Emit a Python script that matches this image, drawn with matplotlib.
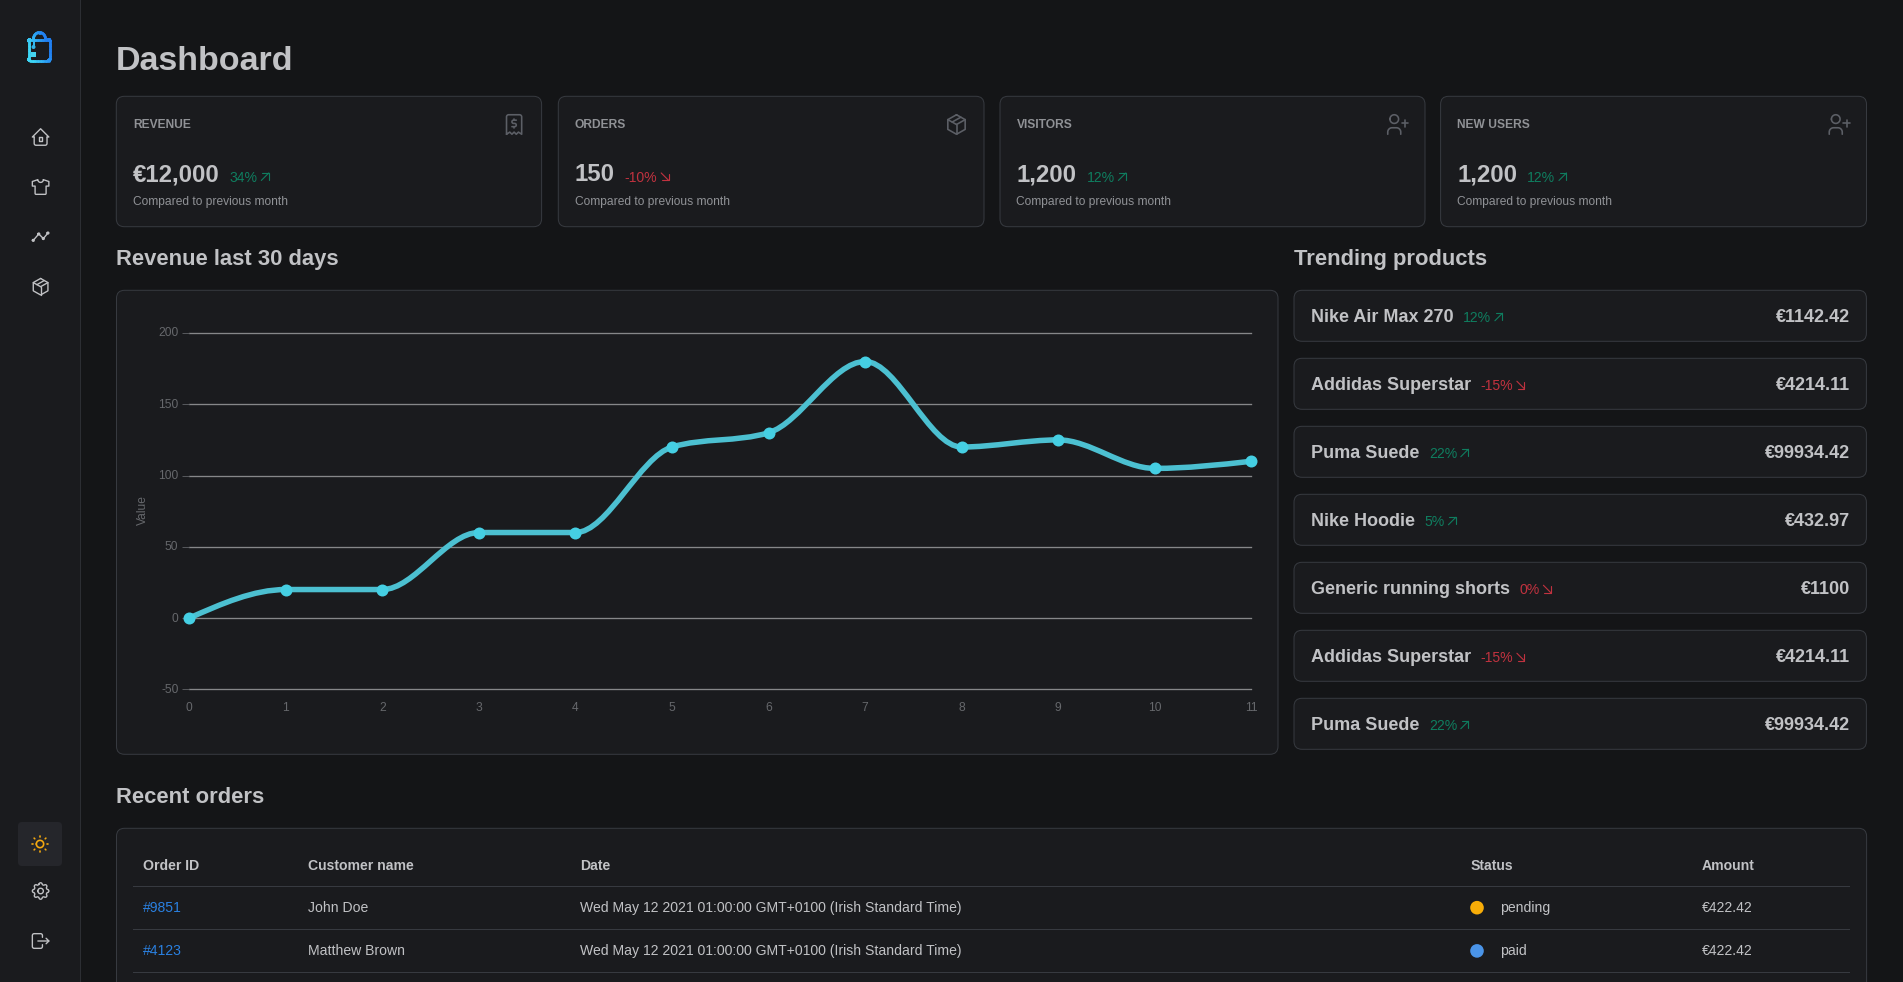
# Dashboard screenshot rebuilt with matplotlib
import re
import numpy as np
import matplotlib
matplotlib.use('Agg')
import matplotlib.pyplot as plt
from matplotlib.path import Path
from matplotlib.patches import FancyBboxPatch, PathPatch, Circle, Rectangle
from matplotlib.collections import LineCollection
from matplotlib.transforms import ScaledTranslation

plt.rcParams['font.family'] = ['Liberation Sans', 'DejaVu Sans']
plt.rcParams['axes.unicode_minus'] = False

W, H = 1903, 982

# chart data
days = [0, 1, 2, 3, 4, 5, 6, 7, 8, 9, 10, 11]
revenue = [0, 20, 20, 60, 60, 120, 130, 180, 120, 125, 105, 110]
value_ticks = [-50, 0, 50, 100, 150, 200]

# stat cards
stat_titles = ['REVENUE', 'ORDERS', 'VISITORS', 'NEW USERS']
stat_values = ['€12,000', '150', '1,200', '1,200']
stat_diffs = [34, -10, 12, 12]
stat_icons = ['receipt', 'package', 'user', 'user']

# trending products
product_names = ['Nike Air Max 270', 'Addidas Superstar', 'Puma Suede', 'Nike Hoodie',
                 'Generic running shorts', 'Addidas Superstar', 'Puma Suede']
product_diffs = [12, -15, 22, 5, 0, -15, 22]
product_prices = ['€1142.42', '€4214.11', '€99934.42', '€432.97', '€1100', '€4214.11', '€99934.42']

# orders table
table_headers = ['Order ID', 'Customer name', 'Date', 'Status', 'Amount']
order_ids = ['#9851', '#4123']
order_names = ['John Doe', 'Matthew Brown']
order_dates = ['Wed May 12 2021 01:00:00 GMT+0100 (Irish Standard Time)',
               'Wed May 12 2021 01:00:00 GMT+0100 (Irish Standard Time)']
order_status = ['pending', 'paid']
order_amounts = ['€422.42', '€422.42']

# colours
BG = '#141517'
CARD = '#1a1b1e'
BORDER = '#373a40'
TEXT = '#c1c2c5'
DIM = '#909296'
GREEN = '#0f7d5f'
RED = '#c0323f'
ICON_DIM = '#5c5f66'
status_colors = {'pending': '#f8ad08', 'paid': '#4a94e8'}

# tabler icons, 24 unit viewbox
ICONS = {
    'home': ['M5 12l-2 0l9 -9l9 9l-2 0', 'M5 12v7a2 2 0 0 0 2 2h10a2 2 0 0 0 2 -2v-7', 'M10 12h4v4h-4z'],
    'shirt': ['M15 4l6 2v5h-3v8a1 1 0 0 1 -1 1h-10a1 1 0 0 1 -1 -1v-8h-3v-5l6 -2a3 3 0 0 0 6 0'],
    'timeline': ['M4 16l6 -7l5 5l5 -6', 'M14 14a1 1 0 1 0 2 0a1 1 0 1 0 -2 0', 'M9 9a1 1 0 1 0 2 0a1 1 0 1 0 -2 0',
                 'M3 16a1 1 0 1 0 2 0a1 1 0 1 0 -2 0', 'M19 8a1 1 0 1 0 2 0a1 1 0 1 0 -2 0'],
    'package': ['M12 3l8 4.5l0 9l-8 4.5l-8 -4.5l0 -9l8 -4.5', 'M12 12l8 -4.5', 'M12 12l0 9', 'M12 12l-8 -4.5', 'M16 5.25l-8 4.5'],
    'sun': ['M8 12a4 4 0 1 0 8 0a4 4 0 1 0 -8 0', 'M3 12h1', 'M12 3v1', 'M20 12h1', 'M12 20v1', 'M5.6 5.6l.7 .7',
            'M18.4 5.6l-.7 .7', 'M17.7 17.7l.7 .7', 'M6.3 17.7l-.7 .7'],
    'settings': ['M10.325 4.317c.426 -1.756 2.924 -1.756 3.35 0a1.724 1.724 0 0 0 2.573 1.066c1.543 -.94 3.31 .826 2.37 2.37'
                 'a1.724 1.724 0 0 0 1.065 2.572c1.756 .426 1.756 2.924 0 3.35a1.724 1.724 0 0 0 -1.066 2.573'
                 'c.94 1.543 -.826 3.31 -2.37 2.37a1.724 1.724 0 0 0 -2.572 1.065c-.426 1.756 -2.924 1.756 -3.35 0'
                 'a1.724 1.724 0 0 0 -2.573 -1.066c-1.543 .94 -3.31 -.826 -2.37 -2.37a1.724 1.724 0 0 0 -1.065 -2.572'
                 'c-1.756 -.426 -1.756 -2.924 0 -3.35a1.724 1.724 0 0 0 1.066 -2.573c-.94 -1.543 .826 -3.31 2.37 -2.37'
                 'c1 .608 2.296 .07 2.572 -1.065', 'M9 12a3 3 0 1 0 6 0a3 3 0 0 0 -6 0'],
    'logout': ['M14 8v-2a2 2 0 0 0 -2 -2h-7a2 2 0 0 0 -2 2v12a2 2 0 0 0 2 2h7a2 2 0 0 0 2 -2v-2', 'M9 12h12l-3 -3', 'M18 15l3 -3'],
    'receipt': ['M5 21v-16a2 2 0 0 1 2 -2h10a2 2 0 0 1 2 2v16l-3 -2l-2 2l-2 -2l-2 2l-2 -2l-3 2',
                'M14 8h-2.5a1.5 1.5 0 0 0 0 3h1a1.5 1.5 0 0 1 0 3h-2.5', 'M12 14v1.5', 'M12 6.5v1.5'],
    'user': ['M5 7a4 4 0 1 0 8 0a4 4 0 1 0 -8 0', 'M3 21v-2a4 4 0 0 1 4 -4h4a4 4 0 0 1 4 4v2', 'M16 11h6', 'M19 8v6'],
    'up': ['M17 7l-10 10', 'M8 7l9 0l0 9'],
    'down': ['M7 7l10 10', 'M17 8l0 9l-9 0'],
}


def arc_points(p0, r, large, sweep, p1):
    # svg endpoint arc, circular only
    mid = (p0 + p1) / 2
    d = (p1 - p0) / 2
    dist = np.hypot(*d)
    r = max(r, dist)
    k = np.sqrt(max(r * r - dist * dist, 0)) / dist
    if large == sweep:
        k = -k
    c = mid + k * np.array([-d[1], d[0]])
    a0 = np.arctan2(*(p0 - c)[::-1])
    a1 = np.arctan2(*(p1 - c)[::-1])
    if sweep and a1 < a0:
        a1 += 2 * np.pi
    if not sweep and a1 > a0:
        a1 -= 2 * np.pi
    t = np.linspace(a0, a1, 14)[1:]
    return c + r * np.column_stack([np.cos(t), np.sin(t)])


def svg_path(d):
    tok = re.findall(r'[a-zA-Z]|-?\d*\.?\d+', d)
    verts, codes = [], []
    pos = np.zeros(2)
    start = pos
    i = 0
    cmd = None
    while i < len(tok):
        if tok[i].isalpha():
            cmd = tok[i]
            i += 1
            if cmd in 'zZ':
                verts.append(start)
                codes.append(Path.LINETO)
                pos = start
                continue
        rel = cmd.islower()
        c = cmd.lower()
        if c in 'ml':
            p = np.array([float(tok[i]), float(tok[i + 1])]) + (pos if rel else 0)
            i += 2
            verts.append(p)
            codes.append(Path.MOVETO if c == 'm' else Path.LINETO)
            if c == 'm':
                start = p
            pos = p
        elif c == 'h':
            pos = pos + [float(tok[i]), 0] if rel else np.array([float(tok[i]), pos[1]])
            i += 1
            verts.append(pos)
            codes.append(Path.LINETO)
        elif c == 'v':
            pos = pos + [0, float(tok[i])] if rel else np.array([pos[0], float(tok[i])])
            i += 1
            verts.append(pos)
            codes.append(Path.LINETO)
        elif c == 'c':
            for j in range(3):
                verts.append(pos + [float(tok[i + 2 * j]), float(tok[i + 2 * j + 1])])
                codes.append(Path.CURVE4)
            pos = verts[-1]
            i += 6
        elif c == 'a':
            r = float(tok[i])
            p1 = pos + [float(tok[i + 5]), float(tok[i + 6])]
            for q in arc_points(pos, r, int(tok[i + 3]), int(tok[i + 4]), p1):
                verts.append(q)
                codes.append(Path.LINETO)
            pos = p1
            i += 7
    return np.array(verts), codes


def draw_icon(name, cx, cy, size, color, lw=1.5):
    k = size / 24.0
    for d in ICONS[name]:
        v, codes = svg_path(d)
        v = (v - 12) * k + [cx, cy]
        bg.add_patch(PathPatch(Path(v, codes), fc='none', ec=color, lw=lw * k * 0.72,
                               capstyle='round', joinstyle='round', zorder=5))


def card(x0, y0, x1, y1, fc=CARD, ec=BORDER, rad=8):
    bg.add_patch(FancyBboxPatch((x0, y0), x1 - x0, y1 - y0, boxstyle='round,pad=0,rounding_size=%d' % rad,
                                fc=fc, ec=ec, lw=0.72, zorder=2))


def label(x, y, s, px, color=TEXT, bold=False, ha='left'):
    return bg.text(x, y, s, fontsize=px * 0.72, color=color, ha=ha, va='baseline',
                   fontweight='bold' if bold else 'normal', zorder=6)


def right_edge(t):
    return bg.transData.inverted().transform(t.get_window_extent(rend))[1][0]


def diff_badge(x, baseline, diff):
    color = GREEN if diff > 0 else RED
    t = label(x, baseline, '%d%%' % diff, 14, color)
    draw_icon('up' if diff > 0 else 'down', right_edge(t) + 7.5, baseline - 4.8, 18, color)


fig = plt.figure(figsize=(W / 100, H / 100), dpi=100, facecolor=BG)
bg = fig.add_axes([0, 0, 1, 1])
bg.set_xlim(0, W)
bg.set_ylim(H, 0)
bg.axis('off')
rend = fig.canvas.get_renderer()

# sidebar
bg.add_patch(Rectangle((0, 0), 79.6, H, fc=CARD, ec='none', zorder=1))
bg.plot([79.6, 79.6], [0, H], color='#2c2e33', lw=0.72, zorder=2)


def fade_line(pts, lw):
    # logo stroke fades from cyan to blue
    seg = np.stack([pts[:-1], pts[1:]], axis=1)
    f = np.clip((pts[:-1, 0] - pts[:-1, 1] * 0.35 - 12) / 20, 0, 1)
    cols = (1 - f)[:, None] * np.array([0.24, 0.84, 0.96]) + f[:, None] * np.array([0.13, 0.50, 0.95])
    bg.add_collection(LineCollection(seg, colors=cols, linewidths=lw, capstyle='round', zorder=5))


v, _ = svg_path('M30 39.5h18.5a1.5 1.5 0 0 1 1.5 1.5v18a1.5 1.5 0 0 1 -1.5 1.5h-18.5a1.5 1.5 0 0 1 -1.5 -1.5v-18a1.5 1.5 0 0 1 1.5 -1.5')
body = np.vstack([np.linspace(v[i], v[i + 1], 8) for i in range(len(v) - 1)])
handle_t = np.linspace(0, np.pi, 24)
handle = np.column_stack([39.5 - 6 * np.cos(handle_t), 39 - 6.5 * np.sin(handle_t)])
tag = np.linspace([33.5, 39], [33.5, 46], 8)
fade_line(body, 2.0)
fade_line(handle, 2.0)
fade_line(tag, 1.3)
bg.add_patch(Circle((33.5, 47), 2, fc='#33b5e8', ec='none', zorder=5))
bg.add_patch(Rectangle((31.2, 52.3), 4.6, 4.6, fc='#45d3ee', ec='none', zorder=5))

for name, y in zip(['home', 'shirt', 'timeline', 'package'], [137, 187, 236.7, 286.7]):
    draw_icon(name, 40.6, y, 22, TEXT)
card(18, 822, 62, 866, fc='#25262b', ec='none', rad=4)
draw_icon('sun', 40, 844, 22, '#f5a90f', lw=1.8)
draw_icon('settings', 40.6, 891, 22, TEXT)
draw_icon('logout', 40.6, 941, 22, TEXT)

# header and stat cards
label(116, 70, 'Dashboard', 34, bold=True)
stat_x = [(116.3, 541.6), (558.3, 984), (1000, 1425), (1440.6, 1866.5)]
for (x0, x1), title, val, diff, icon in zip(stat_x, stat_titles, stat_values, stat_diffs, stat_icons):
    card(x0, 96.3, x1, 226.7)
    label(x0 + 16.5, 128, title, 12, DIM, bold=True)
    draw_icon(icon, x1 - 27.5, 124.5, 26, ICON_DIM)
    v = label(x0 + 16.5, 181, val, 24, bold=True)
    diff_badge(right_edge(v) + 10, 181.5, diff)
    label(x0 + 16.5, 204.7, 'Compared to previous month', 12, DIM)

# chart card
label(116, 265, 'Revenue last 30 days', 22, bold=True)
card(116.5, 290.3, 1278, 754.3)

# trending products
label(1294, 265, 'Trending products', 22, bold=True)
for i, (name, diff, price) in enumerate(zip(product_names, product_diffs, product_prices)):
    y0 = 290.3 + 68 * i
    card(1294, y0, 1866.4, y0 + 51)
    n = label(1311.4, y0 + 31.7, name, 18, bold=True)
    diff_badge(right_edge(n) + 9, y0 + 31.5, diff)
    label(1850.5, y0 + 31.7, price, 18, bold=True, ha='right')

# orders table
label(116, 802.7, 'Recent orders', 22, bold=True)
card(116.5, 828.3, 1866.6, 1100)
col_x = [143, 308, 580.4, 1470.7, 1702]
for x, head in zip(col_x, table_headers):
    label(x, 870, head, 14, bold=True)
for y in [886.3, 929.3, 972.3]:
    bg.plot([133, 1849], [y, y], color=BORDER, lw=0.72, zorder=3)
for i in range(len(order_ids)):
    base = 911.7 + 43.2 * i
    label(col_x[0], base, order_ids[i], 14, '#2a80e0')
    label(col_x[1], base, order_names[i], 14)
    label(col_x[2], base, order_dates[i], 14)
    bg.add_patch(Circle((1477, base - 4), 6.8, fc=status_colors[order_status[i]], ec='none', zorder=5))
    label(1500, base, order_status[i], 14)
    label(col_x[4], base, order_amounts[i], 14)

# revenue chart
left, right, top, bottom = 189.3, 1251.2, 333, 689.3
ax = fig.add_axes([left / W, 1 - bottom / H, (right - left) / W, (bottom - top) / H], zorder=3)
ax.patch.set_visible(False)
ax.set_xlim(days[0], days[-1])
ax.set_ylim(value_ticks[0], value_ticks[-1])
for s in ax.spines.values():
    s.set_visible(False)
ax.set_xticks(days)
ax.set_yticks(value_ticks)
ax.tick_params(axis='x', length=0, pad=8.8, labelsize=12 * 0.72, labelcolor='#66686c')
ax.tick_params(axis='y', length=5.4, width=0.72, color='#55575b', pad=2.4, labelsize=12 * 0.72, labelcolor='#66686c')
up_1px = ScaledTranslation(0, 1 / 100, fig.dpi_scale_trans)
for lab in ax.get_yticklabels():
    lab.set_transform(lab.get_transform() + up_1px)
ax.grid(axis='y', color='#868789', lw=0.95, clip_on=False)
ax.set_axisbelow(True)
ax.set_ylabel('Value', fontsize=12 * 0.72, color='#66686c', va='center')
ax.yaxis.set_label_coords(-0.0433, 0.503)

# monotone x curve as bezier segments, same as the d3 one
xs = np.array(days, dtype=float)
ys = np.array(revenue, dtype=float)
h = np.diff(xs)
sl = np.diff(ys) / h
tan = np.zeros(len(xs))
for i in range(1, len(xs) - 1):
    p = (sl[i - 1] * h[i] + sl[i] * h[i - 1]) / (h[i - 1] + h[i])
    tan[i] = (np.sign(sl[i - 1]) + np.sign(sl[i])) * min(abs(sl[i - 1]), abs(sl[i]), 0.5 * abs(p))
tan[0] = (3 * sl[0] - tan[1]) / 2
tan[-1] = (3 * sl[-1] - tan[-2]) / 2
verts = [(xs[0], ys[0])]
codes = [Path.MOVETO]
for i in range(len(xs) - 1):
    verts += [(xs[i] + h[i] / 3, ys[i] + tan[i] * h[i] / 3),
              (xs[i + 1] - h[i] / 3, ys[i + 1] - tan[i + 1] * h[i] / 3),
              (xs[i + 1], ys[i + 1])]
    codes += [Path.CURVE4] * 3
ax.add_patch(PathPatch(Path(verts, codes), fc='none', ec='#4cc0d1', lw=5.5 * 0.72, clip_on=False, zorder=4))
ax.plot(days, revenue, 'o', color='#45cfe3', ms=12 * 0.72, mew=0, clip_on=False, zorder=5)

fig.savefig('out.png', dpi=100, facecolor=BG)
